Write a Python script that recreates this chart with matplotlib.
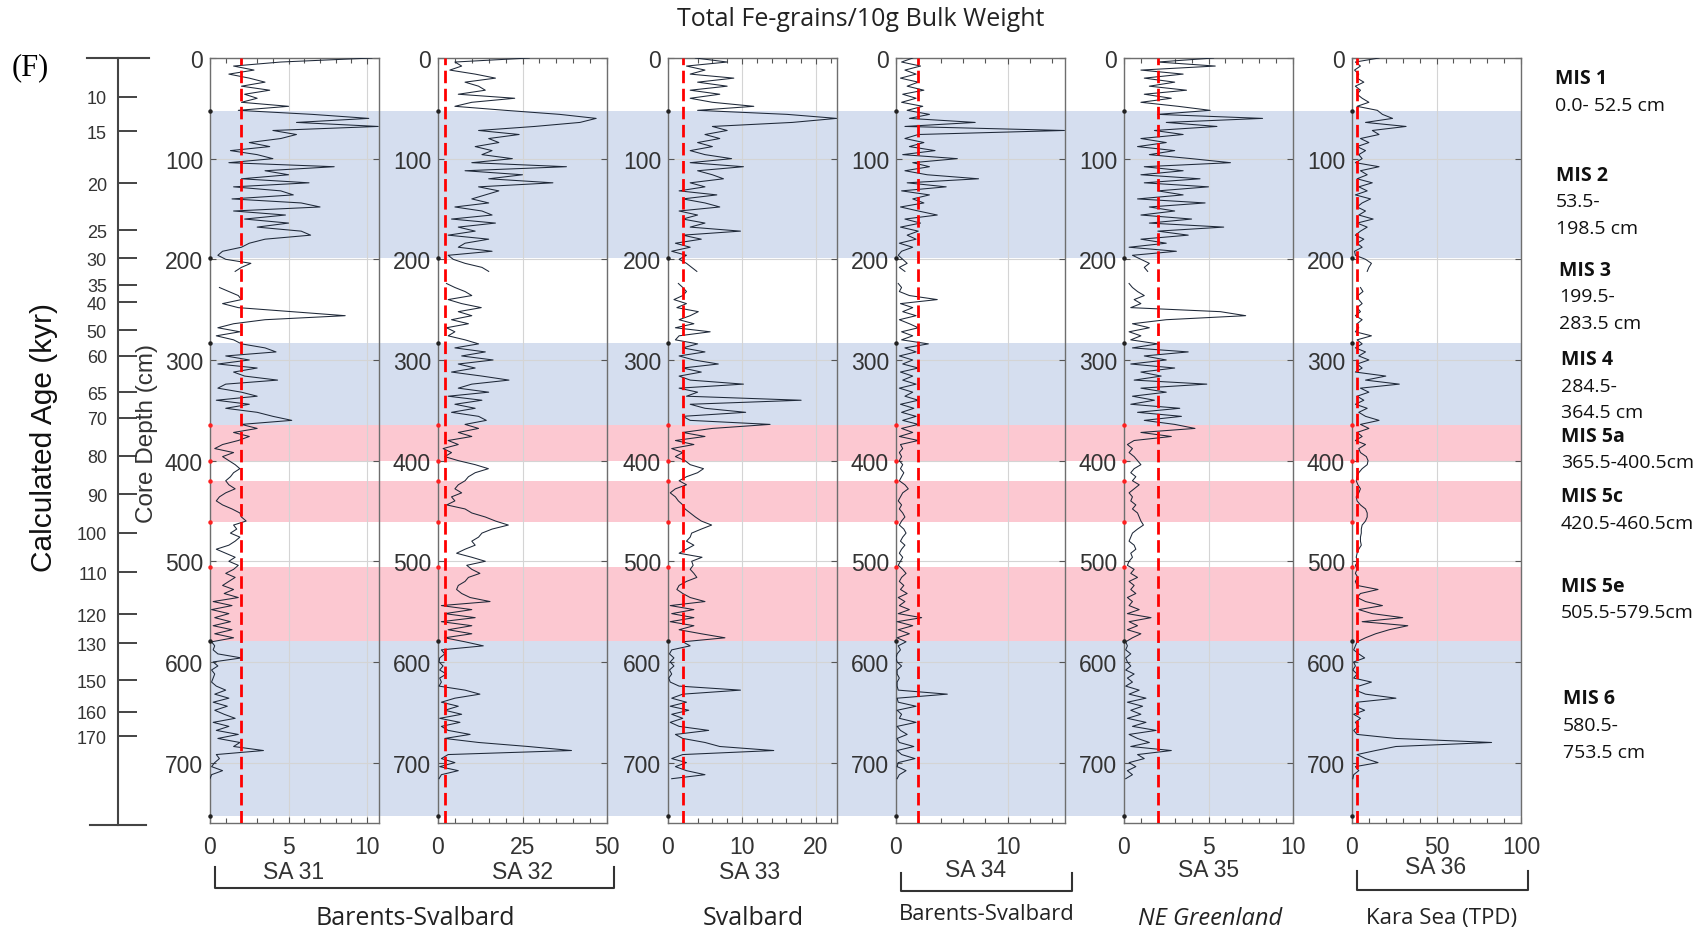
import numpy as np
import matplotlib.pyplot as plt
from matplotlib.lines import Line2D
from matplotlib.ticker import MultipleLocator

W, H = 1705, 937
nan = np.nan

# sampling depth of the Fe-grain counts (cm)
DEPTH = np.arange(0, 720, 4)

# Total Fe-grains / 10 g bulk weight, one row per 40 cm
SA31 = [10.3, 4.5, 1.5, 2.8, 1.2, 2.5, 3.5, 2.0, 3.8, 2.2,
        3.0, 2.0, 5.0, 1.8, 6.5, 10.1, 5.5, 10.7, 4.0, 5.5,
        4.5, 2.5, 3.8, 1.3, 3.0, 4.0, 1.2, 7.9, 3.5, 5.0,
        2.0, 6.3, 1.5, 4.5, 5.3, 1.4, 5.8, 7.0, 1.5, 4.8,
        2.2, 5.0, 3.0, 5.8, 6.4, 3.5, 2.5, 2.0, 0.8, 0.5,
        1.0, 2.6, 2.0, 1.6, nan, nan, nan, 0.6, 1.2, 1.8,
        2.0, 0.8, 1.8, 5.2, 8.6, 3.5, 1.5, 0.5, 1.9, 0.4,
        1.5, 2.0, 3.5, 4.2, 1.0, 2.5, 0.5, 3.0, 1.5, 2.2,
        4.3, 1.0, 0.5, 2.0, 3.0, 0.4, 2.5, 1.0, 3.0, 4.0,
        5.2, 2.0, 3.0, 1.5, 2.5, 1.8, 0.8, 0.3, 1.5, 0.8,
        1.2, 1.6, 1.9, 1.5, 1.3, 1.0, 1.2, 1.6, 1.0, 0.6,
        0.4, 0.8, 1.4, 1.9, 2.0, 2.3, 1.5, 1.7, 1.3, 1.9,
        1.6, 1.2, 0.4, 1.0, 1.6, 1.2, 1.8, 1.5, 1.0, 1.6,
        1.2, 0.8, 1.5, 0.9, 1.8, 0.2, 1.4, 0.1, 1.2, 0.3,
        1.3, 0.2, 1.4, 0.3, 1.5, 0.1, 0.3, 0.2, 0.5, 2.0,
        0.2, 0.5, 0.1, 0.3, 0.2, 0.1, 0.4, 1.0, 0.3, 1.2,
        0.2, 1.1, 0.3, 0.9, 1.6, 0.2, 1.2, 0.4, 1.8, 0.5,
        1.9, 1.5, 3.4, 0.4, 0.6, 0.3, 0.1, 0.8, 0.1, 0.0]

SA32 = [27, 5, 7, 3.5, 11, 17, 8, 12, 14, 6,
        22.7, 10, 5, 20, 36, 46.8, 42, 28.6, 12, 24,
        15, 18, 11, 16, 13, 22, 10, 38, 8, 25,
        15, 34, 12, 18, 14, 10, 15, 5, 13, 16,
        4, 17, 6, 11, 3, 15, 8, 6, 16, 3,
        4.5, 8, 13, 15, nan, nan, 2.5, 5, 8, 10,
        3, 7, 12.8, 6, 10, 4, 9, 2.5, 5, 3,
        8, 12, 5, 14, 7, 16.3, 6, 11, 4, 13,
        21, 10, 6, 15, 3, 13, 5, 11, 4, 12,
        14.3, 8, 12, 6, 10, 3, 6, 1.5, 4, 2,
        6, 11, 14.9, 11, 9, 8, 6, 5, 7, 4,
        5, 2.6, 8, 10, 14, 17, 20.8, 16, 13, 12,
        10, 11, 8, 5.5, 10, 14, 8.5, 10, 12.4, 9,
        8, 6, 5.5, 7, 9.5, 15.4, 1, 10, 2, 11,
        1, 10, 3, 10, 2, 8, 13.4, 1, 2, 0.5,
        0.3, 1.5, 0.5, 2.5, 0.5, 1, 0.3, 8, 12.4, 5,
        1, 6, 2, 7, 0.5, 6.5, 1, 3, 9.5, 2,
        12, 26.7, 39.5, 3, 1, 5, 0.5, 6, 1, 0.3]

SA33 = [3.7, 8, 2.5, 5, 3, 8.9, 4, 8, 3, 7,
        3, 6, 11.6, 4, 16.1, 22.8, 16.8, 6, 8, 5,
        7, 4, 6, 3, 5, 8.6, 3, 10.2, 4, 6,
        7.5, 3, 5, 1.5, 6.6, 2, 5, 7, 1.5, 4,
        2, 5, 3, 9.8, 2, 4.5, 1, 3, 0.5, 2.5,
        1.5, 2.5, 3.2, 3.9, nan, nan, 1.4, 2.0, 2.5, 2.0,
        0.8, 2.5, 1.2, 4.1, 3.0, 1.5, 3.5, 1.0, 5.7, 1.5,
        1.0, 4.0, 2.0, 5.0, 1.5, 3.5, 6.8, 2.0, 4.5, 1.5,
        3.0, 10.2, 1.5, 4.0, 2.5, 18.0, 3.0, 5.0, 10.5, 2.0,
        3.0, 13.8, 6.0, 2.0, 5.0, 1.0, 3.5, 0.5, 2.0, 1.0,
        2.3, 3.0, 4.8, 4.0, 2.5, 1.5, 2.5, 1.0, 0.3, 1.0,
        1.4, 2.0, 2.3, 3.0, 3.7, 4.5, 5.9, 4.5, 3.2, 3.0,
        2.5, 3.5, 2.5, 1.5, 4.6, 3.2, 3.4, 3.0, 3.5, 3.9,
        2.5, 1.5, 1.2, 2.0, 3.0, 5.0, 0.3, 3.5, 0.5, 3.5,
        0.3, 3.5, 1.5, 4.5, 7.7, 2.0, 3.0, 0.5, 0.2, 0.8,
        0.3, 0.8, 0.2, 0.5, 0.1, 0.3, 1.5, 9.8, 2.0, 0.5,
        2.5, 0.3, 2.8, 0.5, 2.0, 0.3, 1.5, 5.5, 1.0, 2.0,
        5.0, 7.0, 14.3, 2.0, 0.5, 2.5, 1.0, 2.5, 5.0, 0.5]

SA34 = [1.5, 0.5, 2.2, 0.8, 1.8, 0.4, 2.0, 1.0, 2.5, 0.6,
        1.8, 0.5, 2.4, 1.0, 3.0, 1.2, 7.1, 0.8, 15.1, 2.0,
        0.8, 2.5, 1.2, 3.5, 0.6, 5.5, 1.5, 3.0, 0.8, 2.8,
        7.4, 1.0, 4.5, 0.5, 3.0, 1.5, 2.5, 0.4, 2.0, 3.7,
        0.8, 2.2, 0.4, 2.0, 1.0, 1.8, 0.3, 1.5, 0.5, 0.2,
        0.6, 1.0, 0.3, 0.8, nan, nan, 0.2, 0.5, 0.3, 1.2,
        3.7, 0.4, 1.5, 0.6, 1.8, 0.3, 1.2, 2.0, 0.5, 1.5,
        0.5, 2.9, 0.8, 1.8, 0.3, 1.5, 0.6, 2.0, 0.4, 1.5,
        0.6, 1.8, 0.3, 1.5, 0.8, 2.0, 0.4, 1.6, 0.5, 1.8,
        0.6, 2.0, 0.5, 1.5, 0.3, 2.0, 0.4, 0.6, 0.3, 0.5,
        0.3, 0.6, 0.4, 0.7, 0.5, 0.3, 0.8, 1.1, 0.6, 0.4,
        0.2, 0.5, 0.3, 0.6, 0.8, 0.5, 0.3, 0.7, 0.9, 0.6,
        0.4, 0.8, 0.5, 0.3, 0.6, 0.4, 0.2, 0.6, 0.9, 0.5,
        0.3, 0.7, 0.4, 1.0, 0.2, 0.8, 0.3, 1.2, 0.2, 2.3,
        0.1, 1.5, 0.2, 1.2, 0.1, 0.9, 0.2, 0.4, 0.1, 0.0,
        0.1, 0.5, 0.1, 0.1, 0.3, 0.1, 0.1, 0.2, 4.6, 0.1,
        0.2, 1.8, 0.1, 0.5, 0.3, 1.8, 0.1, 0.4, 1.0, 0.1,
        0.3, 1.6, 0.1, 0.5, 1.7, 0.2, 0.1, 0.9, 0.3, 0.1]

SA35 = [5.3, 2.0, 5.4, 1.0, 3.5, 1.2, 3.0, 1.5, 3.7, 1.2,
        2.8, 1.0, 3.2, 5.1, 2.0, 8.2, 2.5, 5.5, 1.8, 3.5,
        1.0, 2.5, 0.8, 3.0, 1.5, 4.0, 6.3, 1.2, 3.5, 1.0,
        4.5, 1.2, 5.0, 2.0, 3.5, 0.8, 4.8, 1.5, 3.0, 1.0,
        4.0, 1.5, 5.9, 2.0, 3.8, 1.0, 2.5, 0.3, 3.1, 0.5,
        1.0, 1.5, 1.2, 1.4, nan, nan, 0.3, 0.5, 0.8, 1.2,
        0.6, 1.0, 0.4, 5.7, 7.2, 2.5, 0.5, 1.5, 0.3, 1.0,
        0.4, 2.0, 0.5, 3.8, 1.2, 2.5, 0.4, 3.0, 1.0, 2.2,
        0.6, 4.9, 1.0, 2.5, 0.5, 1.8, 0.4, 3.3, 0.8, 3.4,
        1.2, 3.0, 4.2, 1.0, 2.8, 0.6, 0.2, 0.5, 0.3, 0.6,
        0.8, 1.0, 0.6, 0.4, 0.7, 0.5, 0.9, 0.6, 0.3, 0.5,
        0.4, 0.7, 0.5, 0.8, 0.9, 1.0, 1.15, 0.8, 0.5, 0.4,
        0.3, 0.6, 0.7, 0.4, 0.5, 0.3, 0.2, 0.6, 0.4, 0.8,
        0.3, 0.6, 0.4, 0.7, 0.2, 0.5, 0.3, 0.9, 0.2, 1.6,
        0.3, 0.8, 0.2, 1.0, 0.5, 0.1, 0.2, 0.1, 0.4, 0.1,
        0.2, 0.4, 0.1, 0.6, 0.2, 0.5, 0.1, 0.9, 0.3, 1.3,
        0.2, 1.1, 0.4, 1.0, 0.2, 1.3, 0.5, 1.9, 0.3, 0.8,
        1.5, 0.4, 2.8, 0.8, 1.2, 0.3, 0.7, 0.2, 0.5, 0.1]

SA36 = [16, 2, 5, 1.5, 4, 3, 7, 2, 5, 3,
        6, 10, 3, 15, 18, 24, 8, 32, 12, 16,
        5, 10, 3, 8, 4, 6, 2, 16, 5, 9,
        3, 12, 4, 9, 2, 11, 6, 3, 8, 4,
        12.5, 3, 9, 5, 2, 7, 3, 6, 1.5, 2,
        8, 11.5, 10, 9, nan, nan, nan, 5, 6.5, 3.5,
        4, 6, 3, 5, 2, 6, 3, 4, 2, 11.5,
        3, 6, 2, 8, 4, 10, 3, 6, 2, 20,
        8, 28, 5, 10, 3, 7, 2, 9, 4, 8,
        16, 5, 10, 3, 6, 2, 8, 4, 5, 8.5,
        9.5, 9, 6, 4, 3, 2.5, 3.5, 5, 4, 2.5,
        3, 5, 8, 9, 9, 8, 6, 5.5, 5.5, 5,
        5, 5.5, 4, 3, 2.5, 3.5, 2, 3, 2, 3.5,
        2, 3, 15.4, 5, 3, 8, 18, 4, 12, 30,
        6, 33, 22, 14, 8, 3, 2, 1, 4, 7.5,
        1, 2, 0.5, 3, 1, 11.5, 4, 2, 8, 26,
        3, 2, 7.5, 1, 5, 2, 4, 1, 3, 26,
        82.6, 26, 14, 3, 8, 15.4, 2, 4, 1, 0.5]

CORES = ['SA 31', 'SA 32', 'SA 33', 'SA 34', 'SA 35', 'SA 36']
SERIES = [SA31, SA32, SA33, SA34, SA35, SA36]
XMAX = [10.75, 50, 22.85, 15.15, 10, 100]
XTICKS = [[0, 5, 10], [0, 25, 50], [0, 10, 20], [0, 10], [0, 5, 10], [0, 50, 100]]
XMINOR = [1, 5, 2, 2, 1, 10]
THRESHOLD = [2, 2, 2, 2, 2, 3]

# marine isotope stage intervals (cm)
GLACIAL = [(52.5, 198.5), (283.5, 364.5), (579.5, 753.5)]
INTERGLACIAL = [(364.5, 400.5), (420.5, 460.5), (505.5, 579.5)]
MIS_NAMES = ['MIS 1', 'MIS 2', 'MIS 3', 'MIS 4', 'MIS 5a', 'MIS 5c', 'MIS 5e', 'MIS 6']
MIS_RANGES = [['0.0- 52.5 cm'], ['53.5-', '198.5 cm'], ['199.5-', '283.5 cm'],
              ['284.5-', '364.5 cm'], ['365.5-400.5cm'], ['420.5-460.5cm'],
              ['505.5-579.5cm'], ['580.5-', '753.5 cm']]

# age model: calculated age (kyr) and the matching core depth (cm)
AGE_KYR = [10, 15, 20, 25, 30, 35, 40, 50, 60, 65, 70, 80, 90, 100, 110, 120, 130, 150, 160, 170]
AGE_DEPTH = [38.5, 72.9, 124.3, 171.3, 198.8, 225.4, 242.5, 270.4, 295.9, 332.3, 357.5,
             395.3, 433.4, 471.5, 510.7, 552.7, 581.5, 618.3, 649.4, 673.7]

REGIONS = ['Barents-Svalbard', 'Svalbard', 'Barents-Svalbard', 'NE Greenland', 'Kara Sea (TPD)']

BLUE = '#d5deef'
PINK = '#fcc8d1'
SANS = 'Liberation Sans'
HUMAN = 'Open Sans'
YMAX = 760


def fx(px):
    return px / W


def fy(py):
    return 1 - py / H


fig = plt.figure(figsize=(W / 100, H / 100), dpi=100)

top, bot = 59, 824
ax_b = fig.add_axes([fx(210), fy(bot), fx(1521 - 210), (bot - top) / H], zorder=0)
ax_b.set_ylim(YMAX, 0)
ax_b.set_xlim(0, 1)
ax_b.axis('off')
for a, b in GLACIAL:
    ax_b.axhspan(a, b, color=BLUE, lw=0)
for a, b in INTERGLACIAL:
    ax_b.axhspan(a, b, color=PINK, lw=0)

lefts = [210, 438, 668, 896, 1124, 1352]
for i, (name, vals) in enumerate(zip(CORES, SERIES)):
    ax = fig.add_axes([fx(lefts[i]), fy(bot), 169 / W, (bot - top) / H], zorder=2)
    ax.patch.set_visible(False)
    ax.set_xlim(0, XMAX[i])
    ax.set_ylim(YMAX, 0)
    ax.grid(True, which='major', color='#d4d4d4', lw=0.8)
    ax.set_axisbelow(True)
    ax.plot(vals, DEPTH, color='#1e2838', lw=0.75, zorder=3)
    ax.axvline(THRESHOLD[i], color='#ff0000', lw=2, ls=(0, (4.5, 2)), zorder=4)
    # stage boundary markers on the depth axis
    ax.plot([0] * 5, [52.5, 198.5, 283.5, 579.5, 753.5], 'o', color='#222222', ms=2.2,
            clip_on=False, zorder=5)
    ax.plot([0] * 5, [364.5, 400.5, 420.5, 460.5, 505.5], 'o', color='#ff2020', ms=2.2,
            clip_on=False, zorder=5)
    ax.set_xticks(XTICKS[i])
    ax.xaxis.set_minor_locator(MultipleLocator(XMINOR[i]))
    ax.set_yticks(range(0, 800, 100))
    ax.tick_params(which='both', direction='in', top=True, right=True, color='#555555')
    ax.tick_params(which='major', length=4, width=0.8)
    ax.tick_params(which='minor', length=3.5, width=0.8)
    ax.tick_params(axis='x', labelsize=16.5, labelcolor='#333333', pad=9)
    ax.tick_params(axis='y', labelsize=16.5, labelcolor='#333333', pad=5)
    for lab in ax.get_xticklabels() + ax.get_yticklabels():
        lab.set_fontfamily(SANS)
    for s in ax.spines.values():
        s.set_color('#6e6e6e')
        s.set_linewidth(1)

# age scale
ax_age = fig.add_axes([fx(118), fy(bot), fx(30), (bot - top) / H], zorder=1)
ax_age.patch.set_visible(False)
ax_age.set_ylim(YMAX, 0)
ax_age.set_xticks([])
for k in ['top', 'bottom', 'right']:
    ax_age.spines[k].set_visible(False)
ax_age.spines['left'].set_color('#444444')
ax_age.spines['left'].set_linewidth(1.5)
ax_age.spines['left'].set_bounds(0, 762)
ax_age.set_yticks(AGE_DEPTH)
ax_age.set_yticklabels([str(v) for v in AGE_KYR], fontfamily=SANS)
ax_age.tick_params(axis='y', direction='in', length=14, width=1.4, color='#444444',
                   labelsize=13, labelcolor='#333333', pad=8)
fig.add_artist(Line2D([fx(87), fx(149)], [fy(59), fy(59)], color='#444444', lw=1.5))
fig.add_artist(Line2D([fx(90), fx(146)], [fy(826), fy(826)], color='#444444', lw=1.5))

fig.text(fx(44), fy(437), 'Calculated Age (kyr)', rotation=90, ha='center', va='center',
         fontsize=21.5, family=SANS, color='#111111')
fig.text(fx(147), fy(434), 'Core Depth (cm)', rotation=90, ha='center', va='center',
         fontsize=17.5, family=SANS, color='#333333')
fig.text(fx(12), fy(68), '(F)', ha='left', va='center', fontsize=22, family='Liberation Serif')
fig.text(fx(861), fy(20), 'Total Fe-grains/10g Bulk Weight', ha='center', va='center',
         fontsize=18, family=HUMAN, color='#222222')

# core names
for name, cx, cy in zip(CORES, [294, 522, 750, 976, 1209, 1436], [873, 873, 873, 871, 871, 868]):
    fig.text(fx(cx), fy(cy), name, ha='center', va='center', fontsize=16.5, family=SANS,
             color='#333333')

# region brackets
for x0, x1, y0, y1 in [(215, 614, 868, 889), (901, 1072, 874, 892), (1357, 1528, 872, 891)]:
    fig.add_artist(Line2D([fx(x0), fx(x0), fx(x1), fx(x1)], [fy(y0), fy(y1), fy(y1), fy(y0)],
                          color='#333333', lw=1.5))

reg_x = [415, 753, 987, 1210, 1442]
reg_y = [919, 919, 915, 919, 919]
reg_fs = [18, 18, 15.8, 17, 16]
for r, x, y, fs in zip(REGIONS, reg_x, reg_y, reg_fs):
    fig.text(fx(x), fy(y), r, ha='center', va='center', fontsize=fs, family=HUMAN,
             color='#222222', style='italic' if r.startswith('NE') else 'normal')

# stage labels
mis_x = [1555, 1556, 1559, 1561, 1561, 1561, 1561, 1563]
mis_y = [79, 175.7, 270.7, 360, 436.7, 497.3, 586.7, 699.3]
for name, rng, x, y in zip(MIS_NAMES, MIS_RANGES, mis_x, mis_y):
    fig.text(fx(x), fy(y), name, ha='left', va='center', fontsize=14, family=HUMAN,
             weight='bold', color='#111111')
    for k, line in enumerate(rng):
        fig.text(fx(x), fy(y + 26.7 * (k + 1)), line, ha='left', va='center', fontsize=14,
                 family=HUMAN, color='#111111')

fig.savefig('out.png', dpi=100)
